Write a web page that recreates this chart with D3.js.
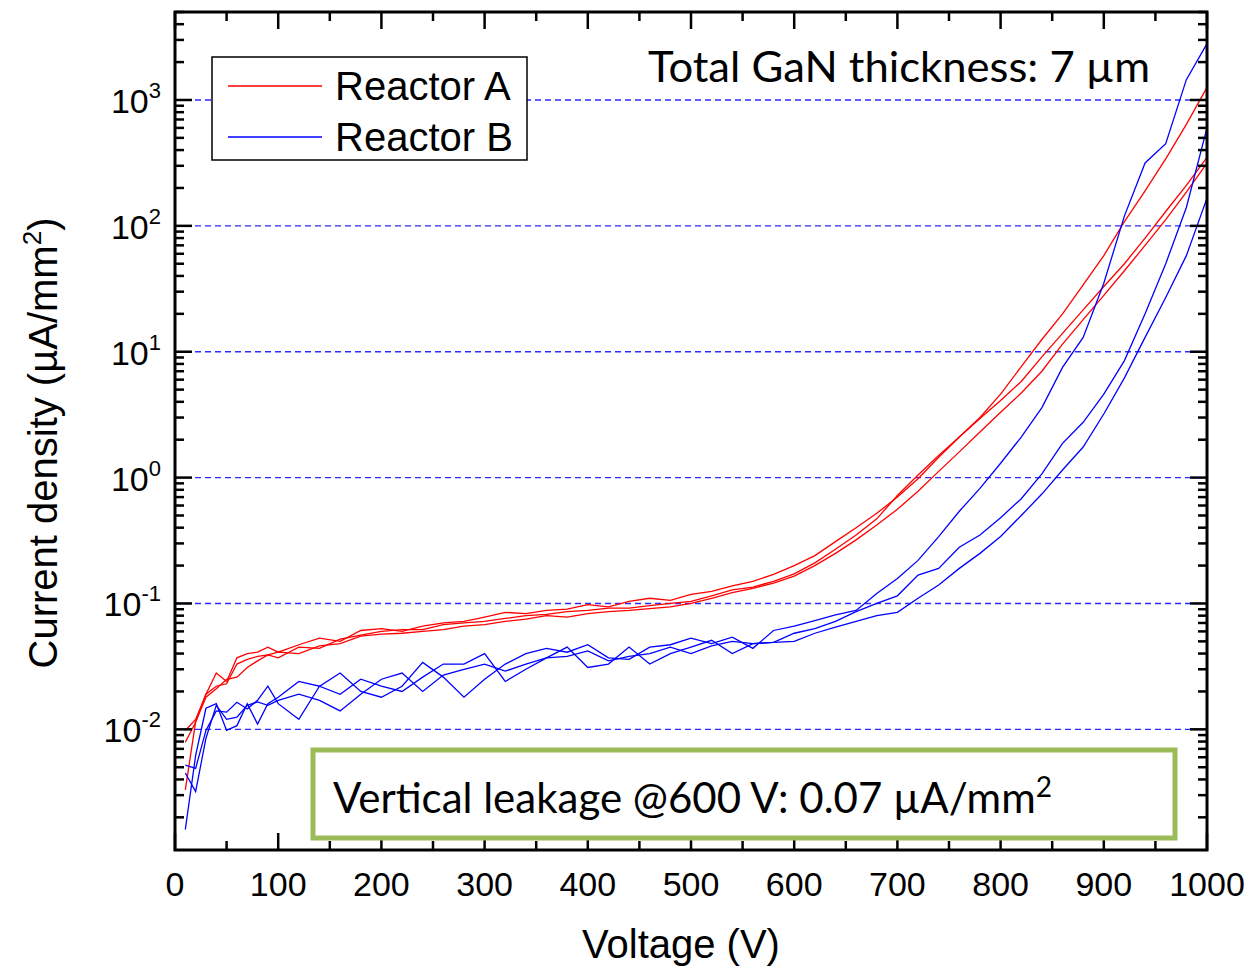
<!DOCTYPE html>
<html>
<head>
<meta charset="utf-8">
<script src="https://cdn.jsdelivr.net/npm/d3@7"></script>
<style>
  body { margin: 0; background: #fff; }
  svg text { font-family: Arial, "Liberation Sans", Arimo, "DejaVu Sans", sans-serif; }
</style>
</head>
<body>
<div id="my_dataviz"></div>
<script>
// voltages (V), shared by all six sweeps
var voltage = [10,20,30,40,50,60,70,80,90,100,120,140,160,180,200,220,240,260,280,300,
  320,340,360,380,400,420,440,460,480,500,520,540,560,580,600,620,640,660,680,700,
  720,740,760,780,800,820,840,860,880,900,920,940,960,980,1000];

// reactor A devices (uA/mm2)
var reactorA1 = [0.0098,0.012,0.019,0.028,0.024,0.037,0.040,0.041,0.045,0.041,0.047,0.053,0.050,0.061,0.063,
  0.060,0.066,0.070,0.072,0.078,0.085,0.083,0.088,0.090,0.098,0.094,0.104,0.110,0.106,0.118,
  0.125,0.138,0.150,0.170,0.200,0.24,0.31,0.40,0.52,0.70,0.98,1.45,2.1,3.0,4.6,7.6,12.5,20,34,58,
  108,190,340,640,1260];
var reactorA2 = [0.0079,0.0114,0.019,0.022,0.023,0.033,0.036,0.038,0.039,0.037,0.045,0.044,0.052,0.056,0.060,
  0.062,0.062,0.068,0.070,0.072,0.076,0.080,0.082,0.086,0.088,0.092,0.092,0.096,0.100,0.104,
  0.115,0.128,0.135,0.150,0.172,0.21,0.27,0.35,0.47,0.72,1.05,1.5,2.1,2.95,4.1,5.8,9.1,14,21.5,33,
  50,80,130,210,350];
var reactorA3 = [0.0033,0.0115,0.018,0.021,0.025,0.026,0.031,0.035,0.039,0.041,0.040,0.046,0.048,0.055,0.057,
  0.058,0.060,0.062,0.066,0.068,0.072,0.075,0.080,0.078,0.083,0.086,0.088,0.091,0.094,0.100,
  0.110,0.122,0.132,0.145,0.165,0.20,0.25,0.32,0.42,0.56,0.78,1.12,1.6,2.3,3.3,4.7,7.0,11.5,18,28,
  44,70,112,185,315];

// reactor B devices (uA/mm2)
var reactorB1 = [0.0016,0.0062,0.0147,0.016,0.0098,0.0107,0.016,0.011,0.016,0.018,0.024,0.022,0.028,0.020,0.018,
  0.022,0.034,0.026,0.018,0.025,0.033,0.040,0.044,0.041,0.047,0.037,0.036,0.045,0.047,0.053,
  0.048,0.054,0.044,0.061,0.066,0.073,0.081,0.088,0.12,0.158,0.22,0.34,0.54,0.82,1.3,2.1,3.6,7.5,13,35,
  120,316,450,1450,2800];
var reactorB2 = [0.0052,0.0049,0.0098,0.014,0.0137,0.0164,0.0145,0.017,0.022,0.016,0.012,0.022,0.019,0.025,0.022,
  0.020,0.026,0.033,0.033,0.040,0.024,0.030,0.037,0.045,0.031,0.033,0.045,0.033,0.040,0.045,
  0.051,0.040,0.048,0.049,0.058,0.063,0.072,0.086,0.10,0.115,0.168,0.19,0.28,0.35,0.48,0.68,1.07,1.87,2.75,4.6,
  8.5,20,50,140,600];
var reactorB3 = [0.0045,0.0032,0.0085,0.0155,0.012,0.0125,0.0155,0.0165,0.0155,0.017,0.019,0.017,0.014,0.019,0.025,
  0.028,0.020,0.027,0.030,0.033,0.029,0.033,0.037,0.038,0.042,0.035,0.038,0.040,0.045,0.040,
  0.046,0.050,0.048,0.049,0.050,0.058,0.065,0.072,0.080,0.085,0.11,0.14,0.19,0.25,0.34,0.50,0.74,1.15,1.75,3.2,
  6.2,13,27,58,166];

var seriesNames = ["Reactor A", "Reactor B"];
var seriesColors = ["#ff0000", "#0000ff"];
var xTicks = [0,100,200,300,400,500,600,700,800,900,1000];
var yExponents = [-2,-1,0,1,2,3];

// set the dimensions and margins of the graph
var margin = {top: 12, right: 41, bottom: 119, left: 175},
    width = 1248 - margin.left - margin.right,
    height = 969 - margin.top - margin.bottom;

var svg = d3.select("#my_dataviz")
            .append("svg")
            .attr("width", 1248)
            .attr("height", 969)
            .append("g")
            .attr("transform", "translate(" + margin.left + "," + margin.top + ")");

// scales
var x = d3.scaleLinear()
    .domain([0, 1000])
    .range([0, width]);

var y = d3.scaleLog()
    .domain([0.0011, 5000])
    .range([height, 0]);

// dashed decade grid
svg.append("g")
  .selectAll("line")
  .data(yExponents)
  .enter()
  .append("line")
  .attr("x1", 0)
  .attr("x2", width)
  .attr("y1", function(d) { return y(Math.pow(10, d)) })
  .attr("y2", function(d) { return y(Math.pow(10, d)) })
  .attr("stroke", "#2a2aff")
  .attr("stroke-width", 1.4)
  .attr("stroke-dasharray", "6,4");

// the curves
var curves = [
  {name: "A", values: reactorA1, color: seriesColors[0]},
  {name: "A", values: reactorA2, color: seriesColors[0]},
  {name: "A", values: reactorA3, color: seriesColors[0]},
  {name: "B", values: reactorB1, color: seriesColors[1]},
  {name: "B", values: reactorB2, color: seriesColors[1]},
  {name: "B", values: reactorB3, color: seriesColors[1]}
];

var line = d3.line()
  .x(function(d) { return x(d[0]) })
  .y(function(d) { return y(d[1]) });

svg.append("defs").append("clipPath").attr("id", "clip")
  .append("rect").attr("width", width).attr("height", height);

svg.append("g")
  .attr("clip-path", "url(#clip)")
  .selectAll("path")
  .data(curves)
  .enter()
  .append("path")
  .attr("fill", "none")
  .attr("stroke", function(d) { return d.color })
  .attr("stroke-width", 1.3)
  .attr("d", function(d) { return line(d.values.map(function(v, i) { return [voltage[i], v] })) });

// x ticks, every 50 V, pointing inwards on bottom and top
var xMinor = d3.range(0, 1001, 50);
function xTickLen(d) { return d % 100 === 0 ? 17 : 9 }

svg.append("g")
  .selectAll("line")
  .data(xMinor)
  .enter()
  .append("line")
  .attr("x1", function(d) { return x(d) })
  .attr("x2", function(d) { return x(d) })
  .attr("y1", height)
  .attr("y2", function(d) { return height - xTickLen(d) })
  .attr("stroke", "#000")
  .attr("stroke-width", 2.5);

svg.append("g")
  .selectAll("line")
  .data(xMinor)
  .enter()
  .append("line")
  .attr("x1", function(d) { return x(d) })
  .attr("x2", function(d) { return x(d) })
  .attr("y1", 0)
  .attr("y2", function(d) { return xTickLen(d) })
  .attr("stroke", "#000")
  .attr("stroke-width", 2.5);

// log ticks on left and right
var yMinor = [];
for (var e = -3; e <= 3; e++) {
  for (var m = 1; m <= 9; m++) {
    var v = m * Math.pow(10, e);
    if (v >= 0.0011 && v <= 5000) yMinor.push({v: v, major: m === 1});
  }
}

svg.append("g")
  .selectAll("line")
  .data(yMinor)
  .enter()
  .append("line")
  .attr("x1", 0)
  .attr("x2", function(d) { return d.major ? 17 : 9 })
  .attr("y1", function(d) { return y(d.v) })
  .attr("y2", function(d) { return y(d.v) })
  .attr("stroke", "#000")
  .attr("stroke-width", 2.5);

svg.append("g")
  .selectAll("line")
  .data(yMinor)
  .enter()
  .append("line")
  .attr("x1", width)
  .attr("x2", function(d) { return width - (d.major ? 17 : 9) })
  .attr("y1", function(d) { return y(d.v) })
  .attr("y2", function(d) { return y(d.v) })
  .attr("stroke", "#000")
  .attr("stroke-width", 2.5);

// frame
svg.append("rect")
  .attr("width", width)
  .attr("height", height)
  .attr("fill", "none")
  .attr("stroke", "#000")
  .attr("stroke-width", 3);

// x tick labels
svg.append("g")
  .selectAll("text")
  .data(xTicks)
  .enter()
  .append("text")
  .attr("x", function(d) { return x(d) })
  .attr("y", height + 46)
  .attr("text-anchor", "middle")
  .style("font-size", "34px")
  .text(function(d) { return d });

// y tick labels, 10^n
var yLab = svg.append("g")
  .selectAll("text")
  .data(yExponents)
  .enter()
  .append("text")
  .attr("x", -14)
  .attr("y", function(d) { return y(Math.pow(10, d)) + 13 })
  .attr("text-anchor", "end")
  .style("font-size", "34px");
yLab.append("tspan").text("10");
yLab.append("tspan")
  .attr("dy", -15)
  .style("font-size", "22px")
  .text(function(d) { return d });

// axis titles
svg.append("text")
  .attr("x", x(500) - 10)
  .attr("y", height + 108)
  .attr("text-anchor", "middle")
  .style("font-size", "40px")
  .text("Voltage (V)");

var yTitle = svg.append("text")
  .attr("transform", "translate(" + (-118) + "," + 431 + ") rotate(-90)")
  .attr("text-anchor", "middle")
  .style("font-size", "40px");
yTitle.append("tspan").text("Current density (\u00b5A/mm");
yTitle.append("tspan").attr("dy", -16).style("font-size", "26px").text("2");
yTitle.append("tspan").attr("dy", 16).text(")");

// legend
var legend = svg.append("g").attr("transform", "translate(37,45)");
legend.append("rect")
  .attr("width", 315)
  .attr("height", 103)
  .attr("fill", "#fff")
  .attr("stroke", "#000")
  .attr("stroke-width", 1.5);
legend.selectAll("line")
  .data(seriesNames)
  .enter()
  .append("line")
  .attr("x1", 16)
  .attr("x2", 110)
  .attr("y1", function(d, i) { return 29 + i * 51 })
  .attr("y2", function(d, i) { return 29 + i * 51 })
  .attr("stroke", function(d, i) { return seriesColors[i] })
  .attr("stroke-width", 1.5);
legend.selectAll("text")
  .data(seriesNames)
  .enter()
  .append("text")
  .attr("x", 123)
  .attr("y", function(d, i) { return 43 + i * 51 })
  .style("font-size", "40px")
  .text(function(d) { return d });

// annotations
svg.append("text")
  .attr("x", 473)
  .attr("y", 70)
  .style("font-family", "Lato, 'Open Sans', sans-serif")
  .style("font-size", "42px")
  .attr("textLength", 502)
  .attr("lengthAdjust", "spacingAndGlyphs")
  .text("Total GaN thickness: 7 \u00b5m");

svg.append("rect")
  .attr("x", 138)
  .attr("y", 738)
  .attr("width", 862)
  .attr("height", 88)
  .attr("fill", "#fff")
  .attr("stroke", "#9bbb59")
  .attr("stroke-width", 5);

var leak = svg.append("text")
  .attr("x", 158)
  .attr("y", 801)
  .style("font-family", "Lato, 'Open Sans', sans-serif")
  .style("font-size", "42px");
leak.append("tspan").text("Vertical leakage @600 V: 0.07 \u00b5A/mm");
leak.append("tspan").attr("dy", -16).style("font-size", "28px").text("2");
</script>
</body>
</html>
